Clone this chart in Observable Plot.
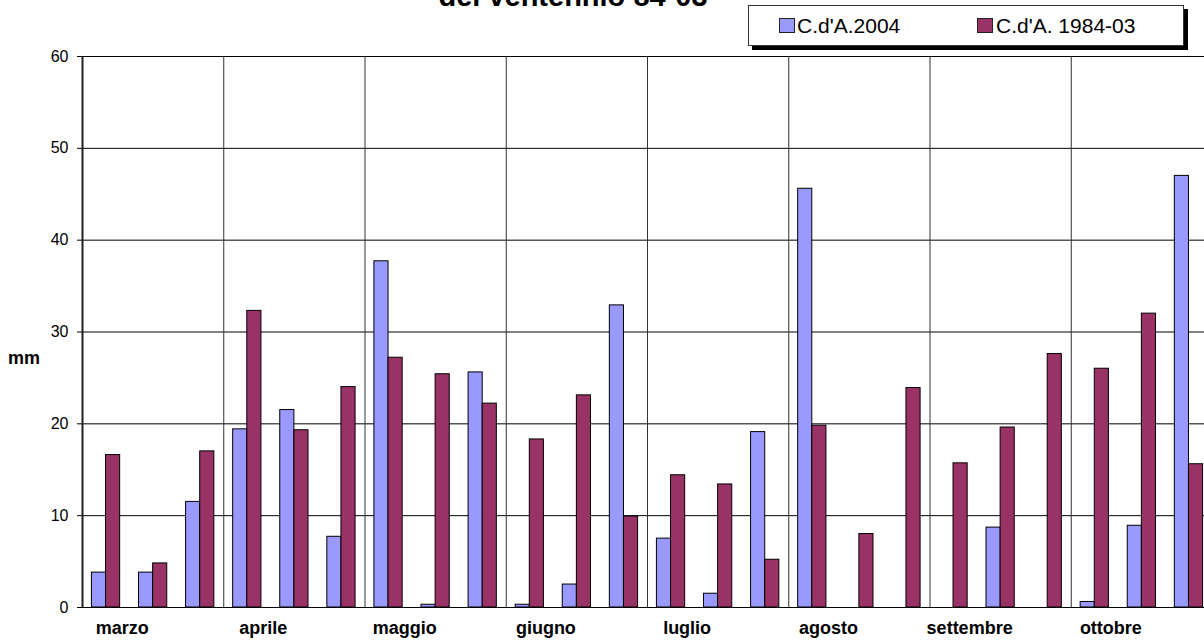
<!DOCTYPE html>
<html>
<head>
<meta charset="utf-8">
<script src="https://cdn.jsdelivr.net/npm/d3@7"></script>
<script src="https://cdn.jsdelivr.net/npm/@observablehq/plot@0.6"></script>
<style>
  html, body { margin: 0; padding: 0; background: #fff; }
  #chart { position: relative; width: 1204px; height: 640px; overflow: hidden;
           font-family: "Liberation Sans", Arial, sans-serif; color: #000; }
  #chart svg { display: block; position: absolute; left: 0; top: 0; }
  #title { position: absolute; left: 0; width: 1146px; top: -18.5px; text-align: center;
           font-weight: bold; font-size: 29px; line-height: 29px; white-space: nowrap; }
  #legend { position: absolute; left: 748px; top: 5px; width: 436px; height: 41px; box-sizing: border-box;
            border: 1px solid #333; background: #fff; box-shadow: 4px 4px 0 #000; font-size: 21px; }
  #legend .sw { position: absolute; top: 12px; width: 16px; height: 15px; box-sizing: border-box; border: 1px solid #222; }
  #legend .lab { position: absolute; top: 8.5px; line-height: 21px; white-space: nowrap; }
  #ylabel { position: absolute; left: 8px; top: 349px; font-weight: bold; font-size: 18px; line-height: 18px; }
</style>
</head>
<body>
<div id="chart">
  <div id="title">del ventennio 84-03</div>
  <div id="ylabel">mm</div>
</div>
<script>
// Rainfall per ten-day period (decade), March to October
const months = ["marzo", "aprile", "maggio", "giugno", "luglio", "agosto", "settembre", "ottobre"];
const series = ["C.d'A.2004", "C.d'A. 1984-03"];
const colors = ["#9999ff", "#993366"];
const yTicks = [0, 10, 20, 30, 40, 50, 60];

// mm of rain, three decades per month
const cda2004 = [3.8, 3.8, 11.5,  19.4, 21.5, 7.7,  37.7, 0.3, 25.6,  0.3, 2.5, 32.9,
                 7.5, 1.5, 19.1,  45.6, 0, 0,  0, 8.7, 0,  0.6, 8.9, 47.0];
const cda8403 = [16.6, 4.8, 17.0,  32.3, 19.3, 24.0,  27.2, 25.4, 22.2,  18.3, 23.1, 9.9,
                 14.4, 13.4, 5.2,  19.8, 8.0, 23.9,  15.7, 19.6, 27.6,  26.0, 32.0, 15.6];

const rows = [];
cda2004.forEach((v, i) => rows.push({i, s: 0, v}));
cda8403.forEach((v, i) => rows.push({i, s: 1, v}));

const perMonth = 3;
const nDec = cda2004.length;

const chart = Plot.plot({
  width: 1204,
  height: 640,
  marginTop: 56,
  marginBottom: 33,
  marginLeft: 82,
  marginRight: 0,
  style: {fontFamily: "'Liberation Sans', Arial, sans-serif", fontSize: "16px", color: "#000", background: "transparent"},
  x: {domain: [0, nDec], range: [82, 1212]},
  y: {domain: [0, 60]},
  color: {domain: series, range: colors},
  marks: [
    Plot.ruleY(yTicks, {stroke: "#000", strokeWidth: 1}),
    Plot.ruleX(d3.range(0, months.length + 1).map(m => m * perMonth), {y1: 0, y2: 60, stroke: "#333", strokeWidth: 1}),
    Plot.rect(rows.filter(d => d.v > 0), {
      x1: d => d.i + 0.2 + 0.3 * d.s,
      x2: d => d.i + 0.5 + 0.3 * d.s,
      y1: 0,
      y2: "v",
      fill: d => series[d.s],
      stroke: "#000",
      strokeWidth: 1
    }),
    Plot.ruleX([0], {stroke: "#222", strokeWidth: 2}),
    Plot.ruleY([0], {stroke: "#000", strokeWidth: 1}),
    Plot.axisY({ticks: yTicks, tickSize: 5, tickPadding: 9, label: null, fontSize: 16}),
    Plot.axisX({
      ticks: months.map((m, k) => k * perMonth + perMonth / 2),
      tickFormat: t => months[Math.round((t - perMonth / 2) / perMonth)],
      tickSize: 0,
      tickPadding: 14,
      label: null,
      fontSize: 18,
      fontWeight: "bold",
      dx: -31
    })
  ]
});

const root = document.getElementById("chart");
root.insertBefore(chart, root.firstChild);

// Legend box with drop shadow
const legend = document.createElement("div");
legend.id = "legend";
const swLeft = [30, 228], labLeft = [48, 247];
series.forEach((name, k) => {
  const sw = document.createElement("div");
  sw.className = "sw";
  sw.style.left = swLeft[k] + "px";
  sw.style.background = colors[k];
  const lab = document.createElement("div");
  lab.className = "lab";
  lab.style.left = labLeft[k] + "px";
  lab.textContent = name;
  legend.appendChild(sw);
  legend.appendChild(lab);
});
root.appendChild(legend);
</script>
</body>
</html>
